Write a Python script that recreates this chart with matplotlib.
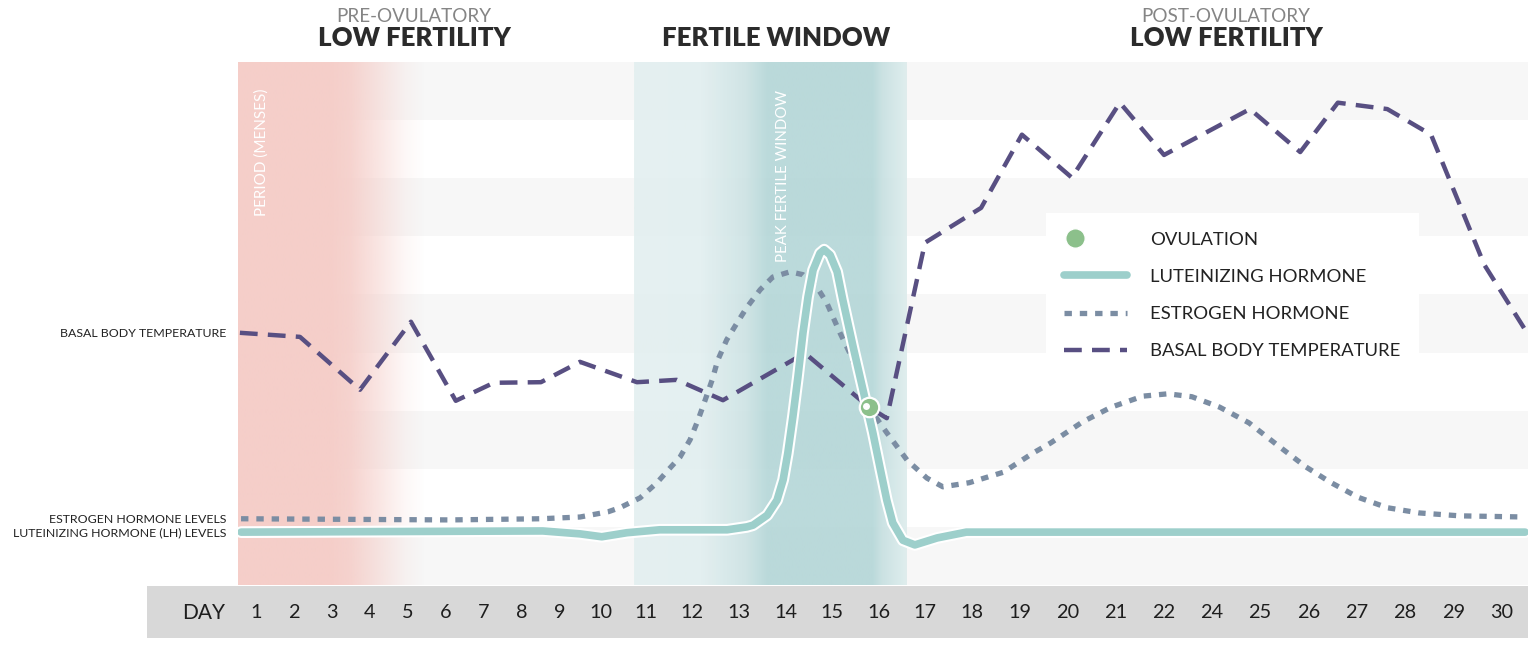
import numpy as np
import matplotlib.pyplot as plt
import matplotlib.patheffects as pe
from matplotlib.colors import to_rgb
from matplotlib.lines import Line2D
from matplotlib.patches import Rectangle
from matplotlib.legend_handler import HandlerTuple
from matplotlib.transforms import offset_copy

plt.rcParams['font.family'] = ['Lato', 'DejaVu Sans']

# bottom day bar (the artwork skips day 23)
day_labels = ['1', '2', '3', '4', '5', '6', '7', '8', '9', '10',
              '11', '12', '13', '14', '15', '16', '17', '18', '19', '20',
              '21', '22', '24', '25', '26', '27', '28', '29', '30']
# slot centres on the artwork, slots get wider after day 10
slot_pos = [256, 294, 332, 370, 408, 446, 484, 522, 560, 601,
            646, 692, 739, 786, 832, 879, 925, 972, 1020, 1068,
            1116, 1164, 1212, 1260, 1309, 1357, 1405, 1454, 1502]

# x in slot index (0 = day 1), y in relative level 0..90
bbt_x = [-0.42, 1.16, 2.74, 4.08, 5.26, 6.26, 7.5, 8.49, 9.8, 10.67, 11.66,
         13.41, 14.79, 15.17, 16.0, 17.19, 18.04, 19.08, 20.08, 21.0, 22.79,
         23.82, 24.6, 25.63, 26.53, 27.63, 28.52]
bbt_y = [43.4, 42.7, 33.6, 45.3, 31.7, 34.8, 34.9, 38.4, 34.9, 35.3, 31.8,
         39.9, 30.6, 28.7, 58.9, 64.9, 77.5, 70.1, 83.0, 74.0, 81.9,
         74.5, 83.0, 81.9, 77.5, 55.1, 43.4]

est_x = [-0.39, 5.1, 7.5, 8.49, 9.16, 9.42, 9.87, 10.24, 10.52, 10.74, 10.96,
         11.13, 11.28, 11.43, 11.55, 11.74, 11.96, 12.17, 12.45, 12.72, 13.09,
         13.37, 13.67, 13.89, 14.17, 14.38, 14.6, 14.87, 15.17, 15.61, 16.04,
         16.38, 16.94, 17.65, 18.27, 18.63, 19.31, 19.9, 20.56, 21.08, 21.58,
         22.16, 22.77, 23.35, 23.94, 24.44, 25.02, 25.63, 26.29, 27.12, 28.48]
est_y = [11.4, 11.2, 11.4, 11.7, 12.6, 13.3, 15.0, 17.6, 20.1, 22.0, 25.0,
         28.4, 31.8, 35.3, 38.7, 42.2, 45.1, 47.8, 50.8, 53.0, 53.9,
         53.4, 51.3, 48.5, 43.4, 39.9, 35.3, 29.6, 26.2, 21.5, 18.4,
         16.9, 17.6, 19.4, 22.7, 24.4, 28.1, 30.6, 32.5, 32.9, 32.4,
         30.6, 27.9, 24.1, 20.3, 17.7, 15.1, 13.3, 12.4, 11.9, 11.7]

lh_x = [-0.39, 7.55, 8.49, 9.02, 9.58, 10.3, 11.75, 12.17, 12.3, 12.6, 12.81,
        12.94, 13.04, 13.15, 13.26, 13.37, 13.48, 13.59, 13.74, 13.83, 13.96,
        14.11, 14.23, 14.45, 14.66, 14.87, 15.02, 15.17, 15.3, 15.52, 15.78,
        16.26, 16.88, 17.65, 28.48]
lh_y = [9.1, 9.3, 8.8, 8.3, 9.0, 9.5, 9.5, 10.0, 10.3, 12.0, 14.6,
        18.1, 22.7, 28.9, 35.8, 43.4, 49.6, 54.2, 57.1, 57.7, 56.8,
        53.9, 49.1, 41.0, 33.6, 26.2, 20.3, 14.6, 10.7, 7.7, 6.9,
        8.1, 9.1, 9.1, 9.1]

ovulation_x = [14.79]
ovulation_y = [30.6]

series_labels = ['BASAL BODY TEMPERATURE', 'ESTROGEN HORMONE LEVELS',
                 'LUTEINIZING HORMONE (LH) LEVELS']
phase_x = [4.16, 12.8, 22.29]
phase_sub = ['PRE-OVULATORY', '', 'POST-OVULATORY']
phase_title = ['LOW FERTILITY', 'FERTILE WINDOW', 'LOW FERTILITY']

C_BBT = '#584f82'
C_EST = '#7b8da3'
C_LH = '#9dcfcb'
C_OV = '#8cc08b'

knot_idx = np.r_[-2, np.arange(len(slot_pos)), len(slot_pos) + 1]
knot_pos = np.r_[slot_pos[0] - 76, slot_pos, slot_pos[-1] + 96]


def fwd(x):
    return np.interp(x, knot_idx, knot_pos)


def inv(p):
    return np.interp(p, knot_pos, knot_idx)


fig = plt.figure(figsize=(15.36, 6.49), dpi=100)
ax = fig.add_axes([238 / 1536, 64 / 649, 1290 / 1536, 523 / 649])
ax.set_xscale('function', functions=(fwd, inv))

# striped background
for lo in range(0, 90, 20):
    ax.axhspan(lo, lo + 10, color='#f7f7f7', lw=0, zorder=0)


def hgrad(stops, colors, alphas):
    xs = np.linspace(stops[0], stops[-1], 500)
    rgb = np.array([to_rgb(c) for c in colors])
    img = np.zeros((1, xs.size, 4))
    for k in range(3):
        img[0, :, k] = np.interp(xs, stops, rgb[:, k])
    img[0, :, 3] = np.interp(xs, stops, alphas)
    ax.imshow(img, extent=(stops[0], stops[-1], 0, 90), aspect='auto',
              interpolation='bilinear', zorder=1)


# period (menses) band
hgrad([-0.47, 1.95, 2.47, 3.26, 3.92, 4.45], ['#f5cec9'] * 6,
      [1, 1, 0.9, 0.5, 0.15, 0])
# fertile window band
hgrad([9.73, 11.17, 12.13, 12.6, 14.85, 15.07, 15.61],
      ['#e4f0f0', '#e2eff0', '#cde3e4', '#b5d7d8', '#b5d7d8', '#c8e1e2', '#deeded'],
      [0.92] * 7)

ax.text(0.16, 85.5, 'PERIOD (MENSES)', rotation=90, ha='center', va='top',
        color='white', fontsize=11, zorder=2)
ax.text(12.94, 85.2, 'PEAK FERTILE WINDOW', rotation=90, ha='center', va='top',
        color='white', fontsize=10.8, zorder=2)

ax.plot(est_x, est_y, color=C_EST, lw=3.8, dashes=(1.4, 1.5), zorder=3)
ax.plot(bbt_x, bbt_y, color=C_BBT, lw=3.2, dashes=(4, 2.3), zorder=4,
        dash_joinstyle='round')
ax.plot(lh_x, lh_y, color=C_LH, lw=5.5, zorder=5, solid_joinstyle='round',
        solid_capstyle='round',
        path_effects=[pe.Stroke(linewidth=8.5, foreground='white'), pe.Normal()])

ax.plot(ovulation_x, ovulation_y, 'o', ms=14, mfc=C_OV, mec='white', mew=1.6, zorder=6)
ax.plot(ovulation_x, ovulation_y, 'o', ms=5, mfc='white', mec='none', zorder=7,
        transform=offset_copy(ax.transData, fig=fig, x=-2, y=1, units='points'))

ax.set_xlim(-0.47, 28.54)
ax.set_ylim(0, 90)

# phase headings
trans = ax.get_xaxis_transform()
for x, sub, title in zip(phase_x, phase_sub, phase_title):
    ax.text(x, 1.0306, title, transform=trans, ha='center', va='baseline',
            fontsize=18.5, fontweight='heavy', color='#2b2b2b')
    ax.text(x, 1.0765, sub, transform=trans, ha='center', va='baseline',
            fontsize=13.6, fontweight='normal', color='#858585')

ax.set_xticks(np.arange(len(day_labels)), labels=day_labels)
ax.tick_params(axis='x', length=0, pad=23.8, labelsize=14.3, labelcolor='#1e1e1e')
for t in ax.get_xticklabels():
    t.set_va('baseline')

ax.set_yticks([bbt_y[0], est_y[0], lh_y[0]], labels=series_labels)
ax.tick_params(axis='y', length=0, pad=8.6, labelsize=8.9, labelcolor='#222222')

for s in ax.spines.values():
    s.set_visible(False)

# day bar
fig.add_artist(Rectangle((147 / 1536, 11 / 649), 1381 / 1536, 52 / 649,
                         transform=fig.transFigure, facecolor='#d8d8d8',
                         edgecolor='none', zorder=-1))
fig.text(204 / 1536, 30 / 649, 'DAY', ha='center', va='baseline', fontsize=15,
         color='#1e1e1e')

handles = [
    (Line2D([], [], ls='none', marker='o', ms=14, mfc=C_OV, mec='white'),
     Line2D([], [], ls='none', marker='o', ms=5, mfc='white', mec='none')),
    Line2D([], [], color=C_LH, lw=5.5, solid_capstyle='round'),
    Line2D([], [], color=C_EST, lw=3.8, dashes=(1.4, 1.5)),
    Line2D([], [], color=C_BBT, lw=3.2, dashes=(4, 2.3)),
]
labels = ['OVULATION', 'LUTEINIZING HORMONE', 'ESTROGEN HORMONE', 'BASAL BODY TEMPERATURE']
leg = ax.legend(handles, labels, handler_map={tuple: HandlerTuple(ndivide=None)},
                loc='upper left', bbox_to_anchor=(0.626, 0.711), borderaxespad=0,
                fontsize=13.3, borderpad=1.0, handlelength=3.4, handletextpad=1.24,
                labelspacing=1.15, frameon=True, fancybox=False, framealpha=1,
                facecolor='white', edgecolor='none', labelcolor='#222222')
leg.set_zorder(10)

fig.savefig('out.png', dpi=100)
